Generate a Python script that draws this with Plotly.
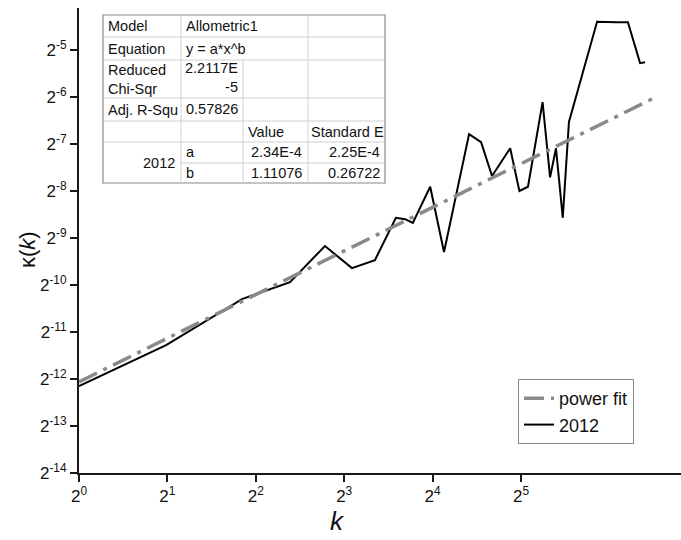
import math
import plotly.graph_objects as go

# ---- data ----
k_vals = [1.0, 1.98, 3.59, 5.23, 6.88, 8.50, 10.18, 12.0, 12.9, 13.7, 15.7, 17.5,
          21.3, 23.4, 25.5, 29.4, 31.6, 33.8, 37.9, 40.2, 42.1, 44.4, 46.6,
          58.1, 67.9, 74.0, 81.4, 84.6]
kappa_2012 = [2.20e-4, 4.02e-4, 7.93e-4, 1.018e-3, 1.736e-3, 1.253e-3, 1.410e-3,
              2.631e-3, 2.577e-3, 2.438e-3, 4.158e-3, 1.587e-3,
              9.036e-3, 8.033e-3, 4.877e-3, 7.340e-3, 3.906e-3, 4.158e-3,
              1.448e-2, 4.776e-3, 7.340e-3, 2.631e-3, 1.082e-2,
              4.737e-2, 4.704e-2, 4.704e-2, 2.574e-2, 2.610e-2]
fit_k = [1.0, 91.5]
fit_kappa = [2.34e-4, 1.55e-2]

x_tickvals = [1, 2, 4, 8, 16, 32]
x_ticktext = ["2<sup>0</sup>", "2<sup>1</sup>", "2<sup>2</sup>", "2<sup>3</sup>",
              "2<sup>4</sup>", "2<sup>5</sup>"]
y_exps = [-14, -13, -12, -11, -10, -9, -8, -7, -6, -5]
y_tickvals = [2.0 ** e for e in y_exps]
y_ticktext = ["2<sup>%d</sup>" % e for e in y_exps]

table_rows = [
    ["Model", "Allometric1"],
    ["Equation", "y = a*x^b"],
    ["Reduced<br>Chi-Sqr", "2.2117E<br>-5"],
    ["Adj. R-Squ", "0.57826"],
]
param_header = ["Value", "Standard E"]
param_group = "2012"
param_names = ["a", "b"]
param_values = ["2.34E-4", "1.11076"]
param_errors = ["2.25E-4", "0.26722"]

FONT = "Liberation Sans, Arial, sans-serif"

W, H = 681, 540
# plot area geometry, in window pixels
X0, Y0, X1, Y1 = 79, 8, 681, 473
PL, PT = X0, Y0
PR, PB = W - X1, H - Y1
PW, PH = W - PL - PR, H - PT - PB


def px(x):
    return (x - X0) / PW


def py(y):
    return 1 - (y - Y0) / PH


fig = go.Figure()
fig.add_trace(go.Scatter(x=k_vals, y=kappa_2012, mode="lines", name="2012",
                         line=dict(color="black", width=2)))
fig.add_trace(go.Scatter(x=fit_k, y=fit_kappa, mode="lines", name="power fit",
                         line=dict(color="#8a8a8a", width=3.5, dash="20px,7px,4px,7px")))

l2 = math.log10(2)
xtop = PW / 88.4
ytop = -14 + PH / 47.0

fig.update_layout(
    width=W, height=H,
    margin=dict(l=PL, r=PR, t=PT, b=PB),
    paper_bgcolor="white", plot_bgcolor="white",
    font=dict(family=FONT, color="#111"),
    showlegend=True,
    legend=dict(x=px(518), y=py(379), xanchor="left", yanchor="top",
                bordercolor="#888", borderwidth=1, bgcolor="white",
                font=dict(size=18, family=FONT), traceorder="reversed",
                tracegroupgap=0),
    xaxis=dict(type="log", range=[0, xtop * l2], tickvals=x_tickvals, ticktext=x_ticktext,
               ticks="outside", ticklen=7, tickwidth=2, tickcolor="#1a1a1a",
               showline=True, linewidth=2, linecolor="#1a1a1a", showgrid=False,
               zeroline=False, tickfont=dict(size=17, family=FONT)),
    yaxis=dict(type="log", range=[-14 * l2, ytop * l2], tickvals=y_tickvals, ticktext=y_ticktext,
               ticks="outside", ticklen=7, tickwidth=2, tickcolor="#1a1a1a",
               showline=True, linewidth=2, linecolor="#1a1a1a", showgrid=False,
               zeroline=False, tickfont=dict(size=17, family=FONT)),
)

# axis titles
fig.add_annotation(x=px(28), y=py(250), xref="paper", yref="paper", text="κ(<i>k</i>)",
                   showarrow=False, textangle=-90, font=dict(size=22, family=FONT),
                   xanchor="center", yanchor="middle")
fig.add_annotation(x=px(337), y=py(521), xref="paper", yref="paper", text="<i>k</i>",
                   showarrow=False, font=dict(size=26, family=FONT),
                   xanchor="center", yanchor="middle")

# ---- table ----
tx0, tx1 = 103, 385
cx = [103, 181, 243, 308, 385]
ry = [15, 37, 60, 98, 121, 142, 163, 183]
light = "#d0d0d0"
shapes = []


def line(x0, y0, x1, y1, color=light, w=1):
    shapes.append(dict(type="line", xref="paper", yref="paper", x0=px(x0), y0=py(y0),
                       x1=px(x1), y1=py(y1), line=dict(color=color, width=w)))


shapes.append(dict(type="rect", xref="paper", yref="paper", x0=px(tx0), y0=py(ry[0]),
                   x1=px(tx1), y1=py(ry[-1]), line=dict(color="#8a8a8a", width=1.2),
                   fillcolor="white", layer="above"))
for y in ry[1:6]:
    line(tx0, y, tx1, y)
line(cx[1], ry[6], tx1, ry[6])
line(cx[1], ry[0], cx[1], ry[-1])
line(cx[2], ry[2], cx[2], ry[-1])
line(cx[3], ry[0], cx[3], ry[-1])
fig.update_layout(shapes=shapes)


def txt(x, y, s, anchor="left", yanchor="middle"):
    fig.add_annotation(x=px(x), y=py(y), xref="paper", yref="paper", text=s,
                       showarrow=False, xanchor=anchor, yanchor=yanchor,
                       font=dict(size=14.5, family=FONT, color="#111"), align=anchor)


txt(106, 26, table_rows[0][0])
txt(184, 26, table_rows[0][1])
txt(106, 49, table_rows[1][0])
txt(184, 49, table_rows[1][1])
txt(106, 79, table_rows[2][0])
txt(240, 77, table_rows[2][1], anchor="right")
txt(106, 110, table_rows[3][0])
txt(240, 109, table_rows[3][1], anchor="right")
txt(246, 132, param_header[0])
txt(309, 132, param_header[1])
txt(177, 163, param_group, anchor="right")
for i, yy in enumerate([152, 173]):
    txt(184, yy, param_names[i])
    txt(304, yy, param_values[i], anchor="right")
    txt(382, yy, param_errors[i], anchor="right")

# the reference has no page margin: draw the chart flush with the window
fig.write_html("out.html", config={"displayModeBar": False},
               post_script="document.body.style.margin='0px';"
                           "document.body.style.overflow='hidden';")
